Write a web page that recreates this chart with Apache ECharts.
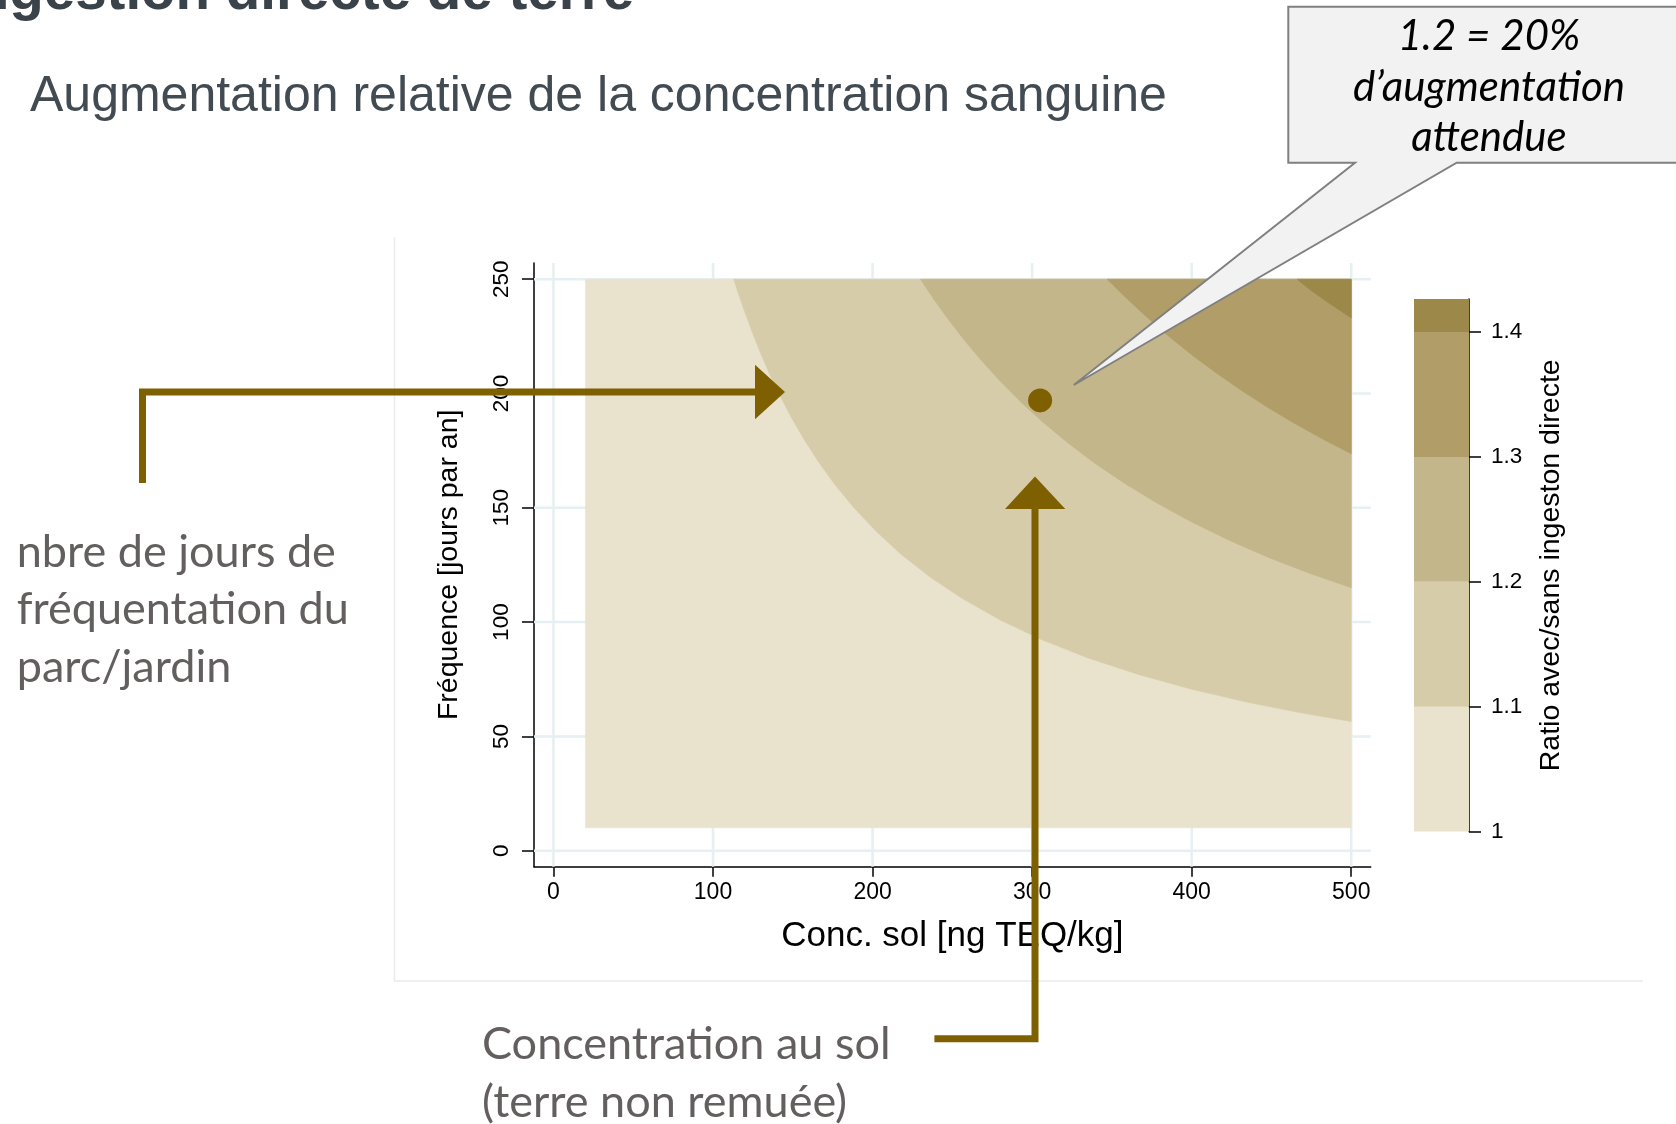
<!DOCTYPE html>
<html><head><meta charset="utf-8">
<script src="https://cdn.jsdelivr.net/npm/echarts@6/dist/echarts.min.js"></script>
<style>html,body{margin:0;padding:0;background:#fff}#c{width:1676px;height:1124px}</style>
</head><body><div id="c"></div>
<script>
// ---- data ----
const xTicks = [0, 100, 200, 300, 400, 500];
const yTicks = [0, 50, 100, 150, 200, 250];
const cbTicks = [1, 1.1, 1.2, 1.3, 1.4];
const levels = [1, 1.1, 1.2, 1.3, 1.4];
const cbMax = 1.4265;
const bandColors = ['#e9e2cc', '#d7cca9', '#c3b68a', '#b09d68', '#9c8848'];
const gridX = [20, 500];
const gridY = [10, 250];
// contour boundaries (x = Conc. sol, y = Fréquence)
const c11X = [113, 116, 120, 125, 130, 136, 142, 149, 157, 166, 176, 188, 202, 218, 236, 256, 280, 306, 335, 367, 400, 435, 468, 500];
const c11Y = [250, 243.5, 235.4, 226, 217.3, 207.7, 199, 189.6, 180, 170.2, 160.5, 150.3, 139.9, 129.6, 119.7, 110.4, 100.9, 92.3, 84.3, 77, 70.6, 64.9, 60.4, 56.5];
const c12X = [230, 238, 247, 257, 268, 280, 293, 307, 322, 339, 357, 377, 399, 423, 448, 474, 500];
const c12Y = [250, 241.6, 232.8, 223.7, 214.6, 205.4, 196.2, 187.3, 178.6, 169.6, 161.1, 152.5, 144.1, 135.9, 128.3, 121.3, 115];
const c13X = [347, 356, 366, 377, 389, 402, 416, 431, 447, 464, 482, 500];
const c13Y = [250, 243.8, 237.2, 230.2, 223.1, 215.9, 208.7, 201.4, 194.2, 187.1, 180.1, 173.6];
const c14X = [466, 475, 485, 500];
const c14Y = [250, 245, 240, 233];
const markPoint = [305, 197];

const contours = [[c11X, c11Y], [c12X, c12Y], [c13X, c13Y], [c14X, c14Y]];

function bandPoly(i) {
  if (i === 0) return [[gridX[0], gridY[0]], [gridX[1], gridY[0]], [gridX[1], gridY[1]], [gridX[0], gridY[1]]];
  const cx = contours[i - 1][0], cy = contours[i - 1][1];
  const pts = cx.map((x, k) => [x, cy[k]]);
  pts.push([gridX[1], gridY[1]]);
  return pts;
}

const chart = echarts.init(document.getElementById('c'), null, {renderer: 'canvas'});
const axisCol = '#000';
const chartFont = 'Liberation Sans';
const brown = '#7f6000';

const option = {
  backgroundColor: '#ffffff',
  animation: false,
  grid: [
    {left: 534, right: 305.3, top: 263, bottom: 257.3, containLabel: false},
    {left: 1414, width: 55, top: 299, height: 532.6, containLabel: false}
  ],
  xAxis: [
    {
      gridIndex: 0, type: 'value', min: -12.2, max: 512.2,
      name: 'Conc. sol [ng TEQ/kg]', nameLocation: 'middle', nameGap: 52,
      nameTextStyle: {fontFamily: chartFont, fontSize: 35, color: axisCol},
      axisLine: {show: true, onZero: false, lineStyle: {color: axisCol, width: 1.5}},
      axisTick: {show: true, customValues: xTicks, length: 10, lineStyle: {color: axisCol, width: 1.5}},
      axisLabel: {customValues: xTicks, fontFamily: chartFont, fontSize: 23, color: axisCol, margin: 14},
      splitLine: {show: false}
    },
    {gridIndex: 1, type: 'value', min: 0, max: 1, show: false}
  ],
  yAxis: [
    {
      gridIndex: 0, type: 'value', min: -7, max: 257.1,
      name: 'Fréquence [jours par an]', nameLocation: 'middle', nameGap: 70, nameRotate: 90,
      nameTextStyle: {fontFamily: chartFont, fontSize: 28.5, color: axisCol},
      axisLine: {show: true, onZero: false, lineStyle: {color: axisCol, width: 1.5}},
      axisTick: {show: true, customValues: yTicks, length: 12, lineStyle: {color: axisCol, width: 1.5}},
      axisLabel: {customValues: yTicks, rotate: 90, fontFamily: chartFont, fontSize: 22.5, color: axisCol, margin: 21},
      splitLine: {show: false}
    },
    {
      gridIndex: 1, type: 'value', min: 1, max: cbMax, position: 'right',
      name: 'Ratio avec/sans ingeston directe', nameLocation: 'middle', nameGap: 68, nameRotate: 90,
      nameTextStyle: {fontFamily: chartFont, fontSize: 28.5, color: axisCol},
      axisLine: {show: true, onZero: false, lineStyle: {color: axisCol, width: 1.5}},
      axisTick: {show: true, customValues: cbTicks, length: 12, lineStyle: {color: axisCol, width: 1.5}},
      axisLabel: {customValues: cbTicks, fontFamily: chartFont, fontSize: 22.5, color: axisCol, margin: 22},
      splitLine: {show: false}
    }
  ],
  series: [
    {
      type: 'custom', xAxisIndex: 0, yAxisIndex: 0, z: 1, silent: true,
      data: xTicks.map(v => [v]),
      renderItem: (params, api) => {
        const cs = params.coordSys;
        const px = api.coord([api.value(0), 0])[0];
        return {type: 'line', shape: {x1: px, y1: cs.y, x2: px, y2: cs.y + cs.height},
          style: {stroke: '#e6eff1', lineWidth: 2.5}};
      }
    },
    {
      type: 'custom', xAxisIndex: 0, yAxisIndex: 0, z: 1, silent: true,
      data: yTicks.map(v => [0, v]),
      renderItem: (params, api) => {
        const cs = params.coordSys;
        const py = api.coord([0, api.value(1)])[1];
        return {type: 'line', shape: {x1: cs.x, y1: py, x2: cs.x + cs.width, y2: py},
          style: {stroke: '#e6eff1', lineWidth: 2.5}};
      }
    },
    {
      type: 'custom', xAxisIndex: 0, yAxisIndex: 0, z: 2, silent: true,
      data: levels.map((l, i) => [i]),
      renderItem: (params, api) => {
        const i = api.value(0);
        return {type: 'polygon', shape: {points: bandPoly(i).map(p => api.coord(p))},
          style: {fill: bandColors[i], stroke: bandColors[i], lineWidth: 0.5}};
      }
    },
    {
      type: 'scatter', xAxisIndex: 0, yAxisIndex: 0, z: 5, silent: true,
      data: [markPoint], symbol: 'circle', symbolSize: 24,
      itemStyle: {color: brown, opacity: 1}
    },
    {
      type: 'custom', xAxisIndex: 1, yAxisIndex: 1, z: 2, silent: true,
      data: levels.map((l, i) => [i]),
      renderItem: (params, api) => {
        const i = api.value(0);
        const lo = levels[i];
        const hi = i + 1 < levels.length ? levels[i + 1] : cbMax;
        const p1 = api.coord([0, hi]);
        const p2 = api.coord([1, lo]);
        return {type: 'rect', shape: {x: p1[0], y: p1[1], width: p2[0] - p1[0], height: p2[1] - p1[1]},
          style: {fill: bandColors[i]}};
      }
    }
  ],
  graphic: [
    {type: 'polyline', silent: true, z: 0, shape: {points: [[394.5, 237], [394.5, 981], [1643, 981]]},
      style: {stroke: '#ececec', lineWidth: 1.5, fill: null}},
    {type: 'text', silent: true, x: -41, y: -6.4,
      style: {text: 'Ingestion directe de terre', font: 'bold 56.5px "Liberation Sans"', fill: '#3a424a', verticalAlign: 'middle'}},
    {type: 'text', silent: true, x: 30, y: 97,
      style: {text: 'Augmentation relative de la concentration sanguine', font: '50px "Liberation Sans"', fill: '#424a52', verticalAlign: 'middle'}},
    {type: 'text', silent: true, x: 16.7, y: 552,
      style: {text: 'nbre de jours de', font: '45px "Lato"', fill: '#635f5f', verticalAlign: 'middle'}},
    {type: 'text', silent: true, x: 16.7, y: 609.5,
      style: {text: 'fréquentation du', font: '45px "Lato"', fill: '#635f5f', verticalAlign: 'middle'}},
    {type: 'text', silent: true, x: 16.7, y: 667,
      style: {text: 'parc/jardin', font: '45px "Lato"', fill: '#635f5f', verticalAlign: 'middle'}},
    {type: 'text', silent: true, x: 482, y: 1044.5,
      style: {text: 'Concentration au sol', font: '45px "Lato"', fill: '#635f5f', verticalAlign: 'middle'}},
    {type: 'text', silent: true, x: 482, y: 1102,
      style: {text: '(terre non remuée)', font: '45px "Lato"', fill: '#635f5f', verticalAlign: 'middle'}},
    {type: 'polyline', silent: true, z: 10, shape: {points: [[142.5, 483], [142.5, 392], [757, 392]]},
      style: {stroke: brown, lineWidth: 7, fill: null, lineJoin: 'miter', lineCap: 'butt'}},
    {type: 'polygon', silent: true, z: 10, shape: {points: [[755, 364.8], [785, 392], [755, 419.2]]},
      style: {fill: brown}},
    {type: 'polyline', silent: true, z: 10, shape: {points: [[934.4, 1038.7], [1035, 1038.7], [1035, 507]]},
      style: {stroke: brown, lineWidth: 7, fill: null, lineJoin: 'miter', lineCap: 'butt'}},
    {type: 'polygon', silent: true, z: 10, shape: {points: [[1005, 509.1], [1035, 476.6], [1065.3, 509.1]]},
      style: {fill: brown}},
    {type: 'polygon', silent: true, z: 10,
      shape: {points: [[1288.3, 6.7], [1690, 6.7], [1690, 162.7], [1456.7, 162.7], [1073.8, 385], [1355, 162.7], [1288.3, 162.7]]},
      style: {fill: '#f2f2f2', stroke: '#808080', lineWidth: 2}},
    {type: 'text', silent: true, z: 11, x: 1489, y: 36,
      style: {text: '1.2 = 20%', font: 'italic 42px "Lato"', fill: '#000', align: 'center', verticalAlign: 'middle'}},
    {type: 'text', silent: true, z: 11, x: 1489, y: 87.5,
      style: {text: 'd’augmentation', font: 'italic 42px "Lato"', fill: '#000', align: 'center', verticalAlign: 'middle'}},
    {type: 'text', silent: true, z: 11, x: 1489, y: 137.5,
      style: {text: 'attendue', font: 'italic 42px "Lato"', fill: '#000', align: 'center', verticalAlign: 'middle'}}
  ]
};
chart.setOption(option);
</script>
</body></html>
